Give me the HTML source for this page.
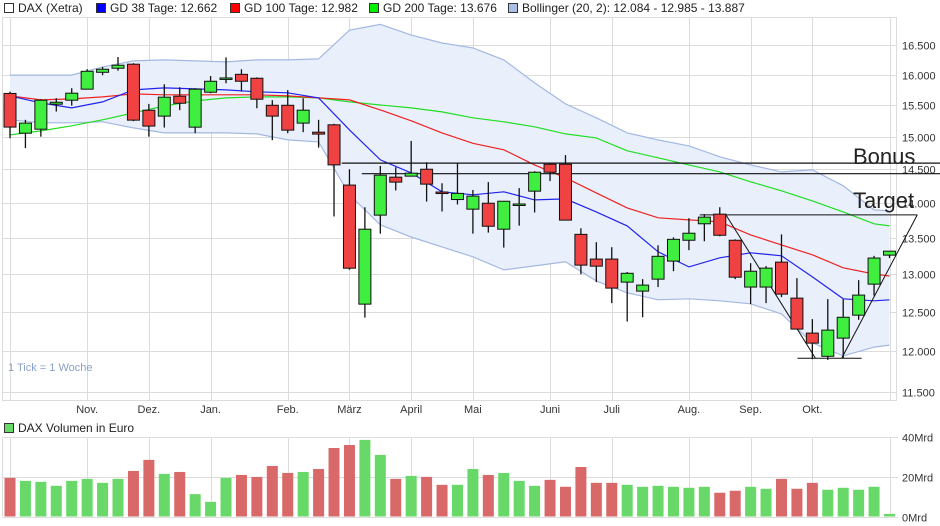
<!DOCTYPE html>
<html><head><meta charset="utf-8">
<style>
html,body{margin:0;padding:0;background:#fff;}
svg{display:block;font-family:"Liberation Sans",sans-serif;}
</style></head>
<body>
<svg id="chart" width="940" height="526" viewBox="0 0 940 526">
  <g font-size="12" fill="#222">
    <g><rect x="4.5" y="3.5" width="9" height="9" fill="#fff" stroke="#333"/><text x="18" y="12">DAX (Xetra)</text></g>
    <g><rect x="96.5" y="3.5" width="9" height="9" fill="#0000ff" stroke="#333"/><text x="110" y="12">GD 38 Tage: 12.662</text></g>
    <g><rect x="230.5" y="3.5" width="9" height="9" fill="#ff0000" stroke="#333"/><text x="244" y="12">GD 100 Tage: 12.982</text></g>
    <g><rect x="369.5" y="3.5" width="9" height="9" fill="#00ee00" stroke="#333"/><text x="383" y="12">GD 200 Tage: 13.676</text></g>
    <g><rect x="508.5" y="3.5" width="9" height="9" fill="#a8bde8" stroke="#333"/><text x="522" y="12">Bollinger (20, 2): 12.084 - 12.985 - 13.887</text></g>
  </g>
  <g id="main"></g>
  <g id="vol"></g>
  <text x="8" y="371" font-size="11" fill="#8aa0c8">1 Tick = 1 Woche</text>
  <g><rect x="4.5" y="423.5" width="9" height="9" fill="#68d868" stroke="#333"/><text x="18" y="432" font-size="12" fill="#222">DAX Volumen in Euro</text></g>
</svg>
<script>
const opens=[15690,15054,15117,15515,15580,15760,16039,16107,16175,15418,15324,15645,15149,15710,15940,16005,15940,15498,15498,15213,15070,15186,14263,12601,13824,14381,14396,14500,14160,14050,13910,13996,13623,13980,14173,14576,14576,13550,13206,13206,12893,12773,12933,13178,13467,13700,13838,13467,12827,12827,13164,12680,12227,11935,12163,12457,12866,13260];
const highs=[15720,15265,15596,15613,15776,16090,16129,16296,16192,15520,15841,15792,15776,15977,16290,16090,15955,15580,15745,15613,15265,15202,14500,13938,14550,14530,14934,14606,14290,14592,14190,14307,14025,14218,14470,14592,14715,13636,13440,13370,13030,12933,13397,13508,13780,13838,13938,13480,13150,13110,13550,12946,12406,12667,12667,12920,13250,13320];
const lows=[14975,14822,15000,15397,15492,15760,15990,16066,15244,15000,15143,15419,15054,15694,15857,15720,15450,14945,15054,15070,14830,13804,13060,12426,13560,14183,14396,14020,13876,13978,13560,13575,13365,13673,13862,14322,13752,13000,12893,12614,12375,12430,12827,13040,13329,13453,13523,12933,12601,12614,12693,12278,11900,11890,11910,12397,12713,13220];
const closes=[15150,15213,15580,15547,15694,16056,16090,16158,15260,15166,15629,15531,15760,15890,15945,15890,15596,15324,15102,15419,15040,14566,13081,13623,14411,14307,14441,14277,14150,14140,14100,13665,14025,13985,14455,14455,13752,13123,13109,12813,13012,12853,13244,13480,13566,13795,13537,12959,13040,13082,12733,12278,12100,12265,12430,12720,13220,13315];
const volumes=[19.5,18,17.5,15.5,18,19,17,19,23,28.6,21.5,22.5,11.3,7.4,19.5,21,20,25.5,22,22.5,24,34.6,36.1,38.7,31.1,19,20.5,20,16,16,24,21,22,18,15.5,18.5,15,25,17,17,16,15,15.5,15,14.5,15,12,13,15,14,19,14,17,13.5,14.5,13.5,15,1.3];
const maIndex=[0,2,4,6,8,10,12,14,16,18,20,22,24,26,28,30,32,34,36,38,40,42,44,46,48,50,52,54,56,57];
const gd38=[15650,15536,15456,15552,15748,15781,15765,15748,15716,15700,15618,15106,14643,14445,14163,14119,14163,14045,14060,13871,13670,13306,13099,13223,13292,13251,12963,12671,12645,12658];
const gd100=[15650,15585,15601,15634,15683,15667,15667,15667,15667,15650,15618,15585,15424,15249,15059,14897,14796,14566,14371,14148,13928,13785,13756,13728,13542,13402,13265,13086,13003,12976];
const gd200=[15027,15090,15170,15265,15376,15487,15569,15618,15634,15634,15618,15552,15503,15456,15392,15297,15233,15154,15043,14980,14781,14673,14566,14460,14312,14178,14030,13871,13699,13670];
const bollUpper=[15993,15993,15993,16129,16231,16248,16231,16214,16248,16248,16265,16757,16858,16672,16536,16451,16248,15863,15520,15297,15059,14949,14857,14689,14566,14460,14490,14252,13900,13886];
const bollLower=[15265,15218,15218,15233,15138,15059,15059,15059,15043,14949,14919,14119,13685,13513,13375,13237,13058,13113,13168,12910,12751,12658,12671,12645,12605,12473,12103,11940,12050,12075];
const priceTicks=[11500,12000,12500,13000,13500,14000,14500,15000,15500,16000,16500];
const priceTickLabels=["11.500","12.000","12.500","13.000","13.500","14.000","14.500","15.000","15.500","16.000","16.500"];
const monthIndex=[5,9,13,18,22,26,30,35,39,44,48,52];
const monthLabels=["Nov.","Dez.","Jan.","Feb.","März","April","Mai","Juni","Juli","Aug.","Sep.","Okt."];
const volTicks=[0,20,40];
const volTickLabels=["0Mrd","20Mrd","40Mrd"];
const levelValues=[14592,14433];
const levelStart=[21.5,22.8];
const targetLine=[44.7,58.8,13828];
const vBottom=[52.2,53.9,11911];

const NS="http://www.w3.org/2000/svg";
function mk(parent,tag,attrs){const e=document.createElementNS(NS,tag);for(const k in attrs)e.setAttribute(k,attrs[k]);parent.appendChild(e);return e;}
const X0=10,STEP=(889.5-10)/57;
function xOf(i){return X0+i*STEP;}
function yP(p){return 392-961*Math.log(p/11500);}
function yV(v){return 516.5-v*(79.2/40);}

const main=document.getElementById('main');
const vol=document.getElementById('vol');
const L=2.5,R=896.5,T=17.5,B=400.5;

// grids
priceTicks.forEach((p,k)=>{
  const y=Math.round(yP(p))+0.5;
  const g=mk(main,'line',{x1:L,x2:R,y1:y,y2:y,stroke:'#dcdcdc'});
  
  
  const t=mk(main,'text',{x:902,y:y+4,'font-size':11,fill:'#333'});
  t.textContent=priceTickLabels[k];
  
  
});
[0].concat(monthIndex).concat([57]).forEach(i=>{
  const x=Math.round(xOf(i))+0.5;
  const g=mk(main,'line',{x1:x,x2:x,y1:T,y2:B,stroke:'#dcdcdc'});
  
  
  const g2=mk(vol,'line',{x1:x,x2:x,y1:437.5,y2:516.5,stroke:'#dcdcdc'});
  
  
});
monthIndex.forEach((i,k)=>{
  const t=mk(main,'text',{x:xOf(i),y:413,'font-size':11,fill:'#333','text-anchor':'middle'});
  t.textContent=monthLabels[k];
  
  
});
const frame=mk(main,'rect',{x:L,y:T,width:R-L,height:B-T,fill:'none',stroke:'#dcdcdc'});



function pts(arr){return maIndex.map((i,k)=>xOf(i).toFixed(1)+','+yP(arr[k]).toFixed(1));}
// bollinger band
const up=pts(bollUpper),lo=pts(bollLower).reverse();
const band=mk(main,'polygon',{points:up.concat(lo).join(' '),fill:'#e9f0fc',stroke:'none'});


const bu=mk(main,'polyline',{points:up.join(' '),fill:'none',stroke:'#a3b8e2','stroke-width':1.2});


const bl=mk(main,'polyline',{points:pts(bollLower).join(' '),fill:'none',stroke:'#a3b8e2','stroke-width':1.2});



const l200=mk(main,'polyline',{points:pts(gd200).join(' '),fill:'none',stroke:'#22dd22','stroke-width':1.2});


const l100=mk(main,'polyline',{points:pts(gd100).join(' '),fill:'none',stroke:'#ee2222','stroke-width':1.2});


const l38=mk(main,'polyline',{points:pts(gd38).join(' '),fill:'none',stroke:'#2222ee','stroke-width':1.2});



// annotation lines
levelValues.forEach((v,k)=>{
  const y=yP(v);
  const ln=mk(main,'line',{x1:xOf(levelStart[k]),x2:940,y1:y,y2:y,stroke:'#111','stroke-width':1.2});
  
  
});
const tY=yP(targetLine[2]),bY=yP(vBottom[2]);
const tl=mk(main,'line',{x1:xOf(targetLine[0]),x2:xOf(targetLine[1]),y1:tY,y2:tY,stroke:'#111','stroke-width':1});


const bl2=mk(main,'line',{x1:xOf(vBottom[0])-18,x2:xOf(vBottom[1])+20,y1:bY,y2:bY,stroke:'#111','stroke-width':1});


const d1=mk(main,'line',{x1:xOf(46.4),y1:tY,x2:xOf(vBottom[0]),y2:bY,stroke:'#111','stroke-width':1});


const d2=mk(main,'line',{x1:xOf(vBottom[1]),y1:bY,x2:xOf(targetLine[1]),y2:tY,stroke:'#111','stroke-width':1});



// candles
opens.forEach((o,i)=>{
  const c=closes[i],x=xOf(i);
  const g=mk(main,'g',{});
  
  
  mk(g,'line',{x1:x,x2:x,y1:yP(highs[i]),y2:yP(lows[i]),stroke:'#111','stroke-width':1.3});
  const top=yP(Math.max(o,c)),bot=yP(Math.min(o,c));
  mk(g,'rect',{x:x-6,y:top,width:12,height:Math.max(bot-top,1.5),fill:c>=o?'#40ee40':'#f04242',stroke:'#111','stroke-width':1});
});

const ann1=mk(main,'text',{x:853,y:164,'font-size':22,fill:'#222'});
ann1.textContent='Bonus';


const ann2=mk(main,'text',{x:853,y:208,'font-size':22,fill:'#222'});
ann2.textContent='Target';



// volume panel
volTicks.forEach((v,k)=>{
  const y=Math.round(yV(v))+0.5;
  const g=mk(vol,'line',{x1:L,x2:898,y1:y,y2:y,stroke:'#dcdcdc'});
  
  
  const t=mk(vol,'text',{x:902,y:y+4,'font-size':11,fill:'#333'});
  t.textContent=volTickLabels[k];
  
  
});
const lv=mk(vol,'line',{x1:L,x2:L,y1:437.5,y2:516.5,stroke:'#dcdcdc'});


volumes.forEach((v,i)=>{
  const x=xOf(i),y=yV(v);
  const b=mk(vol,'rect',{x:x-5.5,y:y,width:11,height:516.5-y,fill:closes[i]>=opens[i]?'#68d868':'#d96868'});
  
  
});
</script>
</body></html>
